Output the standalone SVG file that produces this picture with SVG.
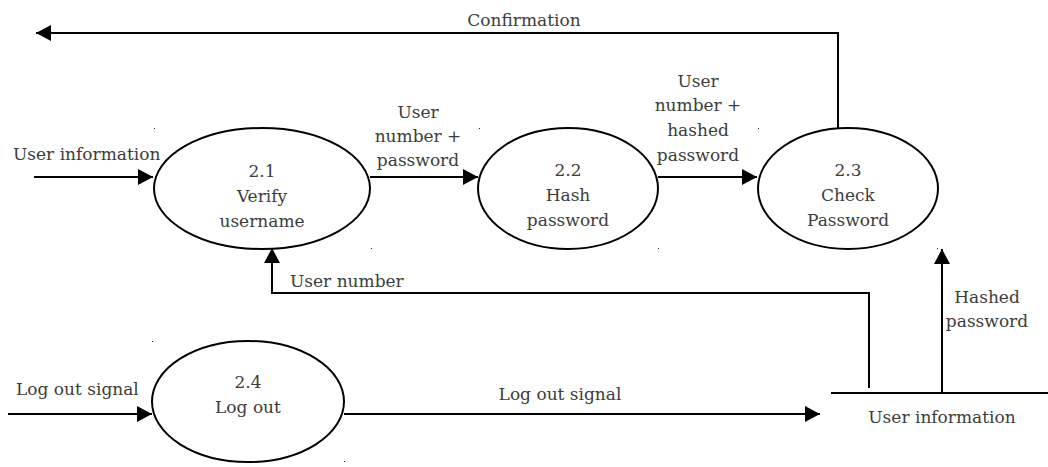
<svg xmlns="http://www.w3.org/2000/svg" width="1048" height="467" viewBox="0 0 1048 467" font-family="DejaVu Serif, Liberation Serif, serif">
  <style>
    .proc { fill: #ffffff; stroke: #000000; stroke-width: 2; }
    .flow { fill: none; stroke: #000000; stroke-width: 2; }
    text { font-size: 17px; fill: #3c3c3c; text-anchor: middle; }
    text.lft { text-anchor: start; }
    .dot { fill: #222222; }
  </style>
  <defs>
    <marker id="arrow" markerUnits="userSpaceOnUse" markerWidth="16" markerHeight="16" refX="15" refY="8" orient="auto">
      <path d="M0,0 L15,8 L0,16 Z" fill="#000000"/>
    </marker>
  </defs>

  <rect width="1048" height="467" fill="#ffffff"/>

  <!-- data flows -->
  <g id="connectors">
    <path class="flow" d="M838,128 V33 H36" marker-end="url(#arrow)"/>
    <path class="flow" d="M34,177 H153" marker-end="url(#arrow)"/>
    <path class="flow" d="M370,177 H478" marker-end="url(#arrow)"/>
    <path class="flow" d="M658,177 H757" marker-end="url(#arrow)"/>
    <path class="flow" d="M869,388 V293 H272 V248" marker-end="url(#arrow)"/>
    <path class="flow" d="M942,393 V249" marker-end="url(#arrow)"/>
    <path class="flow" d="M8,414 H152" marker-end="url(#arrow)"/>
    <path class="flow" d="M344,414 H820" marker-end="url(#arrow)"/>

    <text x="524" y="26">Confirmation</text>
    <text class="lft" x="13" y="160">User information</text>
    <text x="418" y="118">User</text>
    <text x="418" y="142">number +</text>
    <text x="418" y="166">password</text>
    <text x="698" y="87">User</text>
    <text x="698" y="111">number +</text>
    <text x="698" y="136">hashed</text>
    <text x="698" y="161">password</text>
    <text class="lft" x="290" y="287">User number</text>
    <text x="987" y="303">Hashed</text>
    <text x="987" y="327">password</text>
    <text class="lft" x="16" y="395">Log out signal</text>
    <text x="560" y="400">Log out signal</text>
  </g>

  <!-- processes -->
  <g id="p21">
    <ellipse class="proc" cx="262" cy="188.5" rx="108" ry="60.5"/>
    <text x="262" y="177">2.1</text>
    <text x="262" y="202">Verify</text>
    <text x="262" y="227">username</text>
  </g>
  <g id="p22">
    <ellipse class="proc" cx="568" cy="188.5" rx="90" ry="60.5"/>
    <text x="568" y="176">2.2</text>
    <text x="568" y="201">Hash</text>
    <text x="568" y="226">password</text>
  </g>
  <g id="p23">
    <ellipse class="proc" cx="848" cy="188.5" rx="90" ry="60.5"/>
    <text x="848" y="176">2.3</text>
    <text x="848" y="201">Check</text>
    <text x="848" y="226">Password</text>
  </g>
  <g id="p24">
    <ellipse class="proc" cx="248" cy="401.5" rx="96" ry="60.5"/>
    <text x="248" y="388">2.4</text>
    <text x="248" y="413">Log out</text>
  </g>

  <!-- data store -->
  <g id="store">
    <path class="flow" d="M831,393 H1048"/>
    <text x="942" y="423">User information</text>
  </g>

  <!-- bounding-box corner ticks -->
  <g id="ticks">
    <rect class="dot" x="154" y="128" width="1" height="1"/>
    <rect class="dot" x="371" y="248" width="1" height="1"/>
    <rect class="dot" x="479" y="128" width="1" height="1"/>
    <rect class="dot" x="658" y="248" width="1" height="1"/>
    <rect class="dot" x="758" y="128" width="1" height="1"/>
    <rect class="dot" x="937" y="248" width="1" height="1"/>
    <rect class="dot" x="152" y="341" width="1" height="1"/>
    <rect class="dot" x="344" y="461" width="1" height="1"/>
  </g>
</svg>
